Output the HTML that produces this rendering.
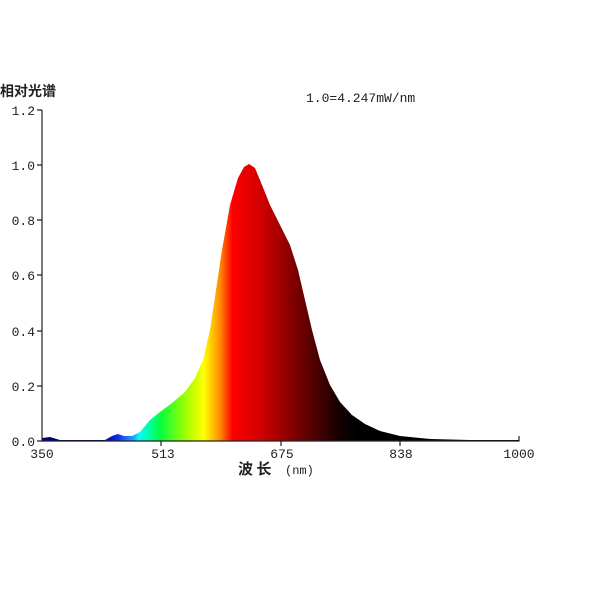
<!DOCTYPE html>
<html><head><meta charset="utf-8"><style>
body{margin:0;background:#fff;width:600px;height:600px;overflow:hidden}
text{font-family:"Liberation Mono","Noto Sans CJK SC",monospace;font-size:13px;fill:#222}
</style></head><body>
<svg width="600" height="600" viewBox="0 0 600 600">
<defs>
<linearGradient id="g" gradientUnits="userSpaceOnUse" x1="100" y1="0" x2="360" y2="0">
<stop offset="0" stop-color="#000080"/>
<stop offset="0.06" stop-color="#1020e0"/>
<stop offset="0.13" stop-color="#20a0ff"/>
<stop offset="0.15" stop-color="#00ffff"/>
<stop offset="0.23" stop-color="#00ff40"/>
<stop offset="0.33" stop-color="#a0ff00"/>
<stop offset="0.4" stop-color="#ffff00"/>
<stop offset="0.46" stop-color="#ff9000"/>
<stop offset="0.51" stop-color="#ff0000"/>
<stop offset="0.62" stop-color="#d00000"/>
<stop offset="0.77" stop-color="#700000"/>
<stop offset="0.93" stop-color="#100000"/>
<stop offset="1" stop-color="#000000"/>
</linearGradient>
</defs>
<path d="M42,441 L42,438 L50,437 L60,440 L105,440 L112,436 L118,434 L124,436 L132,436 L140,432 L150,420 L160,412 L172,403 L185,392 L195,378 L203,360 L210,330 L216,290 L222,250 L230,205 L238,178 L244,167 L249,164 L255,168 L262,185 L270,205 L280,225 L290,245 L298,270 L305,300 L312,330 L320,360 L330,385 L340,402 L352,415 L365,424 L380,431 L400,436 L430,439 L470,440 L519,440 L519,441 Z" fill="url(#g)"/>
<g stroke="#222" stroke-width="1.2" fill="none">
<path d="M42,110 V441 H519 V436"/>
<path d="M37,110 H42 M37,165 H42 M37,220 H42 M37,275 H42 M37,331 H42 M37,386 H42 M37,441 H42"/>
<path d="M161,441 V446 M281,441 V446 M400,441 V446"/>
</g>
<g text-anchor="end">
<text x="35" y="115">1.2</text><text x="35" y="170">1.0</text><text x="35" y="225">0.8</text>
<text x="35" y="280">0.6</text><text x="35" y="336">0.4</text><text x="35" y="391">0.2</text><text x="35" y="446">0.0</text>
</g>
<g text-anchor="middle">
<text x="42" y="458">350</text><text x="163" y="458">513</text><text x="282" y="458">675</text>
<text x="401" y="458">838</text><text x="519" y="458">1000</text>
</g>
<text x="0" y="96" style="font-family:'Noto Sans CJK SC',sans-serif;font-size:14px;font-weight:bold">相对光谱</text>
<text x="306" y="102">1.0=4.247mW/nm</text>
<text x="238" y="474" style="font-family:'Noto Sans CJK SC',sans-serif;font-size:15px;font-weight:bold">波 长</text>
<text x="285" y="474" style="font-size:12px">(nm)</text>
</svg>
</body></html>
